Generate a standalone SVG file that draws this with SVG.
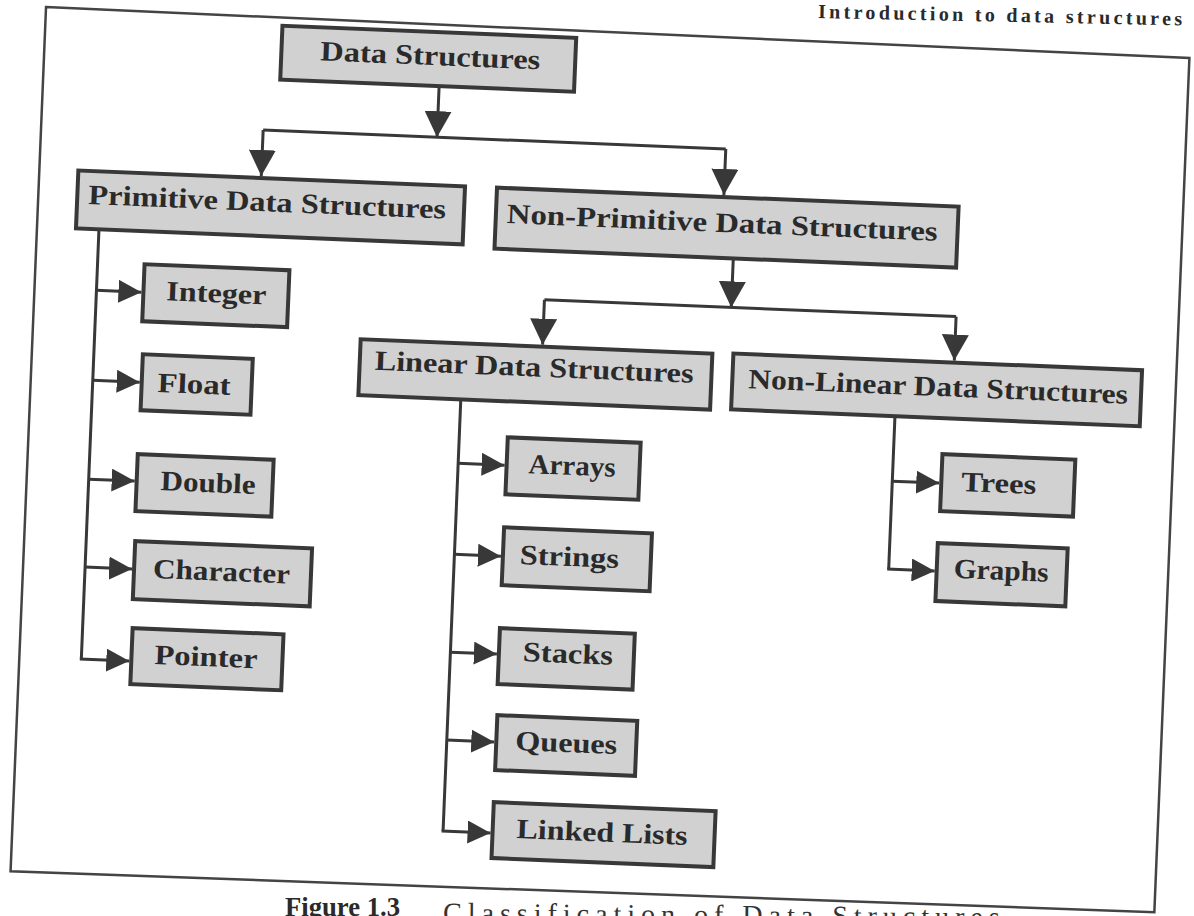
<svg xmlns="http://www.w3.org/2000/svg" width="1194" height="916" viewBox="0 0 1194 916">
<style>
.box{fill:#d1d1d1;stroke:#383838;stroke-width:4}
.lbl{font-family:"Liberation Serif","DejaVu Serif",serif;font-weight:bold;font-size:28px;fill:#2a2a2a}
.conn{fill:none;stroke:#383838;stroke-width:3}
.frame{fill:none;stroke:#444;stroke-width:2.5}
.hdr{font-family:"Liberation Serif","DejaVu Serif",serif;font-weight:bold;font-size:20px;fill:#2a2a2a}
.cap{font-family:"Liberation Serif","DejaVu Serif",serif;font-size:28px;fill:#333}
</style>
<defs>
<marker id="ahBig" markerUnits="userSpaceOnUse" markerWidth="26" markerHeight="27" viewBox="0 0 26 27" refX="26" refY="13.5" orient="auto"><path d="M0,0 L26,13.5 L0,27 Z" fill="#383838"/></marker>
<marker id="ah" markerUnits="userSpaceOnUse" markerWidth="23" markerHeight="23" viewBox="0 0 23 23" refX="23" refY="11.5" orient="auto"><path d="M0,0 L23,11.5 L0,23 Z" fill="#383838"/></marker>
</defs>
<rect width="1194" height="916" fill="#fff"/>
<text class="hdr" x="818" y="18" textLength="364" lengthAdjust="spacing" transform="rotate(1.15 818 18)">Introduction to data structures</text>
<g id="caption">
<text class="lbl" x="285" y="916" textLength="115" lengthAdjust="spacingAndGlyphs">Figure 1.3</text>
<text class="cap" x="443" y="922" letter-spacing="6" transform="rotate(0.45 443 922)">Classification of Data Structures</text>
</g>
<g transform="rotate(2.35 597 458)">
<path id="frame" class="frame" d="M28,30 L1172.5,34 L1172.5,889 L28,895 Z"/>
<g id="connectors">
<path class="conn" d="M424,93 V144" marker-end="url(#ahBig)"/>
<path class="conn" d="M250,144 H713"/>
<path class="conn" d="M250,144 V190" marker-end="url(#ahBig)"/>
<path class="conn" d="M713,144 V190" marker-end="url(#ahBig)"/>
<path class="conn" d="M725,253 V302" marker-end="url(#ahBig)"/>
<path class="conn" d="M538,302 H950"/>
<path class="conn" d="M538,302 V347" marker-end="url(#ahBig)"/>
<path class="conn" d="M950,302 V346" marker-end="url(#ahBig)"/>
<path class="conn" d="M90,250 V680"/>
<path class="conn" d="M90,311 H135" marker-end="url(#ah)"/>
<path class="conn" d="M90,401 H137" marker-end="url(#ah)"/>
<path class="conn" d="M90,500 H136" marker-end="url(#ah)"/>
<path class="conn" d="M90,588 H137" marker-end="url(#ah)"/>
<path class="conn" d="M88.5,680 H138" marker-end="url(#ah)"/>
<path class="conn" d="M458.5,405 V837"/>
<path class="conn" d="M458.5,469 H505" marker-end="url(#ah)"/>
<path class="conn" d="M458.5,560 H505" marker-end="url(#ah)"/>
<path class="conn" d="M458.5,658 H505" marker-end="url(#ah)"/>
<path class="conn" d="M458.5,746 H506" marker-end="url(#ah)"/>
<path class="conn" d="M457,837 H506" marker-end="url(#ah)"/>
<path class="conn" d="M893,404 V557"/>
<path class="conn" d="M893,469 H940" marker-end="url(#ah)"/>
<path class="conn" d="M891.5,557 H939" marker-end="url(#ah)"/>
</g>
<g id="n-ds"><rect class="box" x="265" y="39" width="294" height="54"/><text class="lbl" x="304" y="72" textLength="220" lengthAdjust="spacingAndGlyphs">Data Structures</text></g>
<g id="n-prim"><rect class="box" x="67" y="192" width="387" height="58"/><text class="lbl" x="78" y="225" textLength="358" lengthAdjust="spacingAndGlyphs">Primitive Data Structures</text></g>
<g id="n-nonprim"><rect class="box" x="486" y="192" width="462" height="61"/><text class="lbl" x="497" y="227" textLength="431" lengthAdjust="spacingAndGlyphs">Non-Primitive Data Structures</text></g>
<g id="n-linear"><rect class="box" x="356" y="349" width="352" height="56"/><text class="lbl" x="371" y="379" textLength="319" lengthAdjust="spacingAndGlyphs">Linear Data Structures</text></g>
<g id="n-nonlinear"><rect class="box" x="729" y="348" width="409" height="56"/><text class="lbl" x="745" y="382" textLength="380" lengthAdjust="spacingAndGlyphs">Non-Linear Data Structures</text></g>
<g id="n-integer"><rect class="box" x="137" y="283" width="145" height="57"/><text class="lbl" x="160" y="318" textLength="100" lengthAdjust="spacingAndGlyphs">Integer</text></g>
<g id="n-float"><rect class="box" x="139" y="373" width="110" height="56"/><text class="lbl" x="155" y="410" textLength="73" lengthAdjust="spacingAndGlyphs">Float</text></g>
<g id="n-double"><rect class="box" x="138" y="473" width="136" height="57"/><text class="lbl" x="162" y="508" textLength="95" lengthAdjust="spacingAndGlyphs">Double</text></g>
<g id="n-character"><rect class="box" x="139" y="560" width="177" height="58"/><text class="lbl" x="158" y="596" textLength="137" lengthAdjust="spacingAndGlyphs">Character</text></g>
<g id="n-pointer"><rect class="box" x="140" y="647" width="151" height="56"/><text class="lbl" x="163" y="682" textLength="103" lengthAdjust="spacingAndGlyphs">Pointer</text></g>
<g id="n-arrays"><rect class="box" x="507" y="441" width="133" height="57"/><text class="lbl" x="529" y="476" textLength="87" lengthAdjust="spacingAndGlyphs">Arrays</text></g>
<g id="n-strings"><rect class="box" x="507" y="531" width="148" height="58"/><text class="lbl" x="524" y="567" textLength="99" lengthAdjust="spacingAndGlyphs">Strings</text></g>
<g id="n-stacks"><rect class="box" x="507" y="632" width="135" height="56"/><text class="lbl" x="531" y="664" textLength="90" lengthAdjust="spacingAndGlyphs">Stacks</text></g>
<g id="n-queues"><rect class="box" x="508" y="719" width="140" height="55"/><text class="lbl" x="527" y="753" textLength="102" lengthAdjust="spacingAndGlyphs">Queues</text></g>
<g id="n-linked"><rect class="box" x="508" y="806" width="222" height="56"/><text class="lbl" x="532" y="841" textLength="171" lengthAdjust="spacingAndGlyphs">Linked Lists</text></g>
<g id="n-trees"><rect class="box" x="942" y="440" width="133" height="57"/><text class="lbl" x="962" y="476" textLength="75" lengthAdjust="spacingAndGlyphs">Trees</text></g>
<g id="n-graphs"><rect class="box" x="941" y="529" width="130" height="58"/><text class="lbl" x="958" y="563" textLength="95" lengthAdjust="spacingAndGlyphs">Graphs</text></g>
</g>
</svg>
